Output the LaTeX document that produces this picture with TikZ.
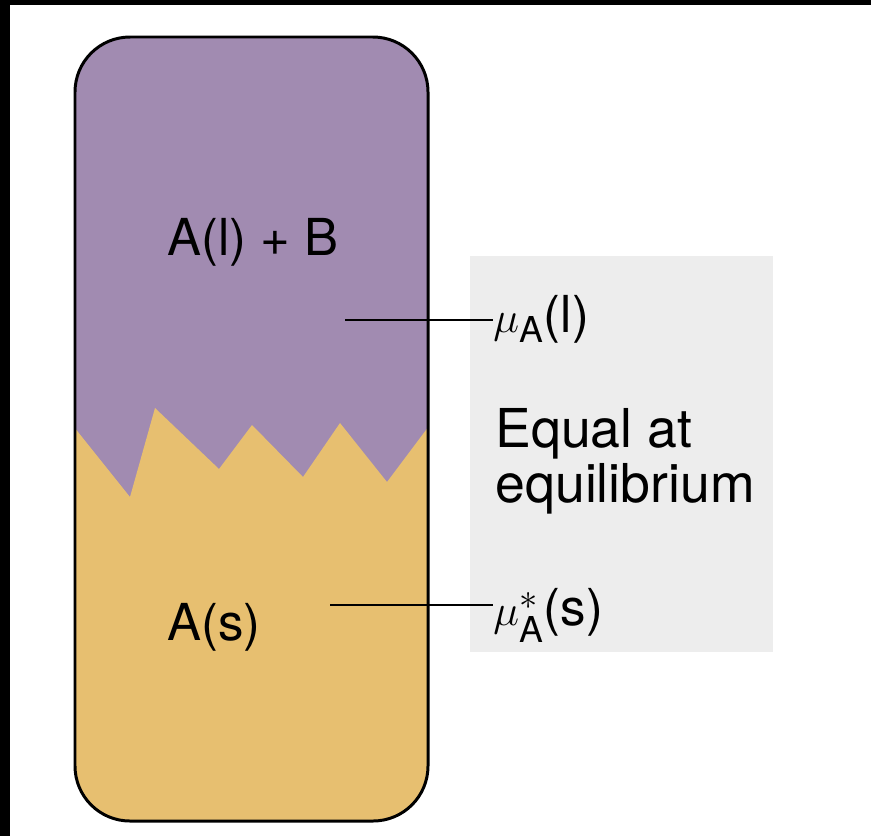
\documentclass[tikz,border=0pt]{standalone}
\usepackage{amsmath}
\usepackage{fontspec}
\setmainfont{TeX Gyre Heros}
\usepackage{xcolor}
\usepackage{tikz}
\definecolor{liqpurple}{RGB}{161,139,177}
\definecolor{solidyellow}{RGB}{231,191,112}
\definecolor{boxgray}{RGB}{237,237,237}

\begin{document}
\begin{tikzpicture}[x=0.02cm,y=-0.02cm,
			txt/.style={anchor=base west,inner sep=0pt,font=\fontsize{29}{34}\selectfont},
			bigtxt/.style={txt,font=\fontsize{30.5}{36}\selectfont},
			lead/.style={line width=1.3pt},
			rim/.style={line width=1.7pt,rounded corners=1.1cm},
			]
			% 画布与黑边
			\useasboundingbox (0,0) rectangle (871,836);
			\fill[white] (0,0) rectangle (871,836);
			\fill[black] (0,0) rectangle (871,5);
			\fill[black] (0,0) rectangle (10,836);
			
			% 灰色框
			\fill[boxgray] (470,256) rectangle (773,652);
			
			% 容器：上部液相，下部固相
			\fill[liqpurple,rounded corners=1.1cm] (75,37) rectangle (428,821);
			\begin{scope}
				\clip[rounded corners=1.1cm] (75,37) rectangle (428,821);
				\fill[solidyellow] (70,422) -- (130,497) -- (155,408) -- (219,469) -- (252,425)
				-- (303,477) -- (340,423) -- (387,482) -- (432,422) -- (432,830) -- (70,830) -- cycle;
			\end{scope}
			\draw[rim] (75,37) rectangle (428,821);
			
			% 文字
			\node[txt] (mix) at (167,255) {A(l) + B};
			\node[txt] (sol) at (167,640) {A(s)};
			\node[txt] (muL) at (493,332) {$\mu_{\text{A}}$(l)};
			\node[bigtxt] (eq1) at (495,447) {Equal at};
			\node[bigtxt] (eq2) at (495,502) {equilibrium};
			\node[txt] (muS) at (493,625) {$\mu^{*}_{\text{A}}$(s)};
			
			% 引线
			\coordinate (lq) at (345,320);
			\coordinate (sq) at (330,605);
			\draw[lead] (lq) -- (lq -| muL.west);
			\draw[lead] (sq) -- (sq -| muS.west);
		\end{tikzpicture}
\end{document}
